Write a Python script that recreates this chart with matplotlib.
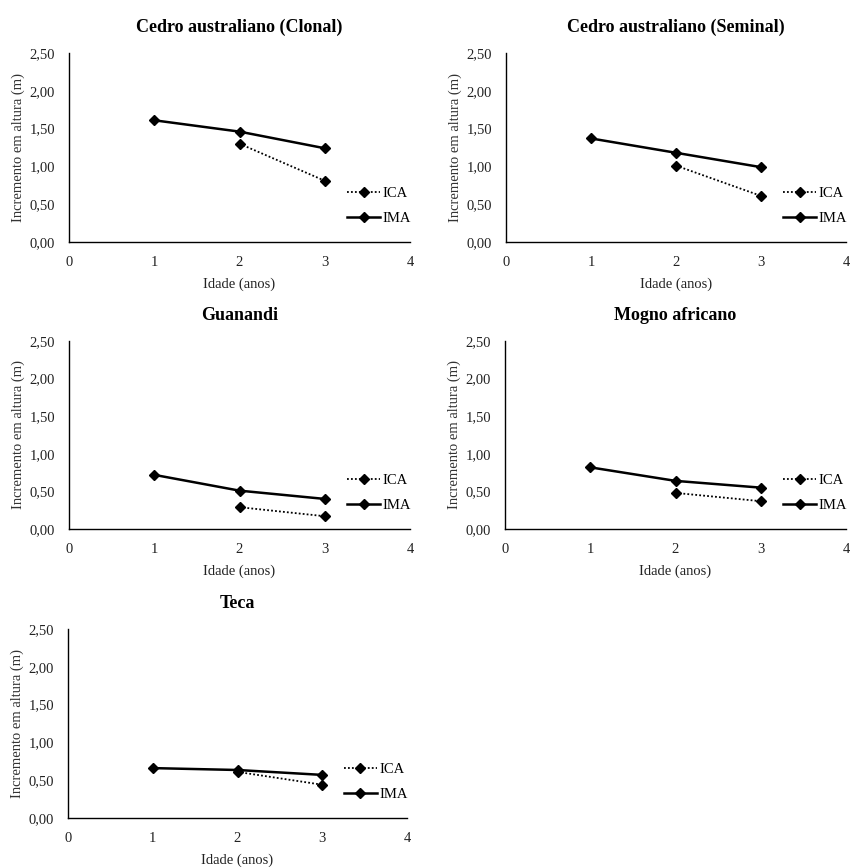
import matplotlib
matplotlib.use('Agg')
import matplotlib.pyplot as plt
from matplotlib.ticker import FuncFormatter

plt.rcParams['font.family'] = 'Liberation Serif'

# idade (anos)
idade_ima = [1, 2, 3]
idade_ica = [2, 3]

titles = ['Cedro australiano (Clonal)', 'Cedro australiano (Seminal)',
          'Guanandi', 'Mogno africano', 'Teca']

# incremento medio anual (IMA) e corrente anual (ICA), m
ima = [[1.61, 1.46, 1.24],
       [1.37, 1.18, 0.99],
       [0.72, 0.51, 0.40],
       [0.82, 0.64, 0.55],
       [0.66, 0.635, 0.57]]
ica = [[1.30, 0.81],
       [1.01, 0.61],
       [0.29, 0.17],
       [0.48, 0.37],
       [0.61, 0.44]]

yticks = [0, 0.5, 1.0, 1.5, 2.0, 2.5]
xticks = [0, 1, 2, 3, 4]

W, H = 850, 867
# axes boxes in pixels: left, top, right, bottom
boxes = [(69, 53, 410, 242), (506, 53, 846, 242),
         (69, 341, 410, 529), (505, 341, 846, 529),
         (68, 629, 407, 818)]

fig = plt.figure(figsize=(8.5, 8.67), dpi=100)

for i, (l, t, r, b) in enumerate(boxes):
    ax = fig.add_axes([l / W, 1 - b / H, (r - l) / W, (b - t) / H])
    ax.plot(idade_ica, ica[i], ls=(0, (1, 1.2)), color='black', lw=1.3, marker='D',
            ms=4.8, label='ICA')
    ax.plot(idade_ima, ima[i], ls='-', color='black', lw=1.8, marker='D',
            ms=4.8, label='IMA')
    ax.set_xlim(0, 4)
    ax.set_ylim(0, 2.5)
    ax.set_xticks(xticks)
    ax.set_yticks(yticks)
    ax.yaxis.set_major_formatter(FuncFormatter(lambda v, p: ('%.2f' % v).replace('.', ',')))
    ax.tick_params(length=0, labelsize=10.5, pad=10, labelcolor='#222222')
    for s in ['top', 'right']:
        ax.spines[s].set_visible(False)
    for s in ['left', 'bottom']:
        ax.spines[s].set_linewidth(1.0)
    ax.set_xlabel('Idade (anos)', fontsize=10.5, labelpad=6, color='#222222')
    ax.set_ylabel('Incremento em altura (m)', fontsize=10.5, labelpad=3, color='#333333')
    ax.set_title(titles[i], fontsize=13, fontweight='bold', pad=15)
    ax.legend(loc='lower right', bbox_to_anchor=(1.02, 0.06), frameon=False,
              fontsize=10.5, handlelength=2.2, handletextpad=0.2,
              labelspacing=0.8, borderaxespad=0)

fig.savefig('out.png', dpi=100, facecolor='white')
